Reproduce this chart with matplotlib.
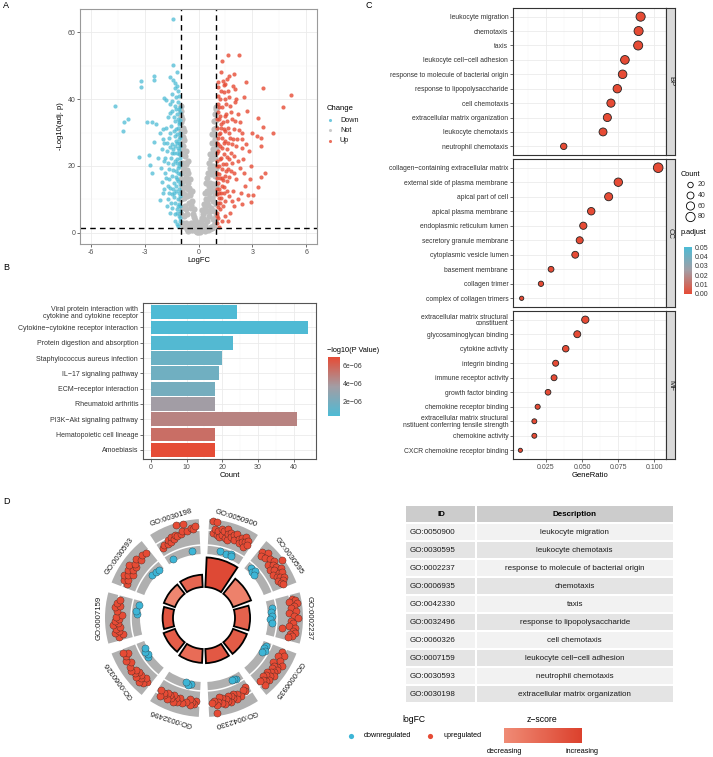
import numpy as np
import matplotlib
matplotlib.use("Agg")
import matplotlib.pyplot as plt
from matplotlib.colors import LinearSegmentedColormap, Normalize
from matplotlib.cm import ScalarMappable
from matplotlib.patches import Rectangle

plt.rcParams['font.family'] = ['Liberation Sans', 'DejaVu Sans']
plt.rcParams['axes.unicode_minus'] = False

W, H = 713, 757
M = '\u2212'

# ---------------- A: volcano ----------------
down_pts = [(-1.43, 64.1), (-1.44, 50.2), (-1.20, 48.2), (-2.48, 46.9), (-3.18, 45.3), (-3.18, 43.7),
            (-2.48, 45.6), (-1.57, 46.5), (-1.44, 45.7), (-1.29, 44.7), (-1.29, 43.2), (-1.93, 40.4),
            (-1.80, 39.7), (-4.67, 37.9), (-3.93, 33.9), (-4.17, 33.0), (-4.20, 30.4), (-2.89, 33.1),
            (-2.57, 33.1), (-2.39, 32.4), (-2.17, 29.9), (-2.48, 27.1), (-3.32, 22.7), (-2.78, 23.2),
            (-2.72, 20.3), (-2.61, 17.9), (-2.17, 9.7), (-2.04, 15.2),
            (-1.05, 3.5), (-1.1, 5), (-1.02, 6.5), (-1.2, 7), (-1.08, 8.5), (-1.3, 9), (-1.15, 10),
            (-1.03, 11), (-1.45, 11.5), (-1.25, 12.5), (-1.1, 13), (-1.6, 13.5), (-1.02, 14.5),
            (-1.35, 15), (-1.18, 16), (-1.8, 16.5), (-1.5, 17), (-1.05, 17.5), (-1.25, 18.5),
            (-1.65, 19), (-1.12, 19.5), (-1.4, 20.5), (-1.02, 21), (-1.9, 21.5), (-1.22, 22),
            (-1.55, 22.5), (-1.08, 23.5), (-1.35, 24), (-1.75, 24.5), (-1.15, 25.5), (-1.03, 26),
            (-1.48, 26.5), (-1.28, 27.5), (-1.1, 28), (-1.62, 28.5), (-1.2, 29.5), (-1.04, 30),
            (-1.38, 30.5), (-1.15, 31.5), (-1.52, 32), (-1.06, 32.5), (-1.3, 33.5), (-1.12, 34),
            (-1.7, 34.5), (-1.22, 35.5), (-1.05, 36), (-1.45, 36.5), (-1.33, 38), (-1.6, 38.5),
            (-1.15, 39), (-1.25, 40.5), (-1.5, 41.5), (-1.12, 42.5), (-1.85, 18), (-2.0, 12),
            (-1.7, 10), (-1.3, 5.5), (-1.45, 7.5), (-1.9, 27), (-2.05, 25), (-1.95, 31), (-1.58, 6),
            (-1.2, 2.5), (-1.12, 15.5), (-1.07, 20), (-1.32, 21.5), (-1.42, 13), (-1.55, 9),
            (-1.72, 14), (-1.85, 22.5), (-1.06, 24.8), (-1.18, 27), (-1.09, 33), (-1.28, 16.8),
            (-1.4, 25.2), (-1.02, 37.5), (-1.16, 8), (-1.36, 10.8),
            (-1.03, 4.5), (-1.08, 12), (-1.13, 18), (-1.01, 22.5), (-1.19, 24), (-1.04, 28.8),
            (-1.11, 37), (-1.24, 31), (-1.17, 6), (-1.27, 14), (-1.31, 26), (-1.43, 18.8),
            (-1.5, 23.8), (-1.56, 29.8), (-1.63, 16.2), (-1.68, 21), (-1.76, 26.8), (-1.82, 31.5),
            (-1.39, 34.5), (-1.26, 37), (-1.47, 39.5), (-1.09, 41), (-1.21, 44), (-1.6, 35.8),
            (-1.92, 13), (-2.1, 19.5), (-2.25, 22.5), (-2.0, 28), (-1.66, 11.8), (-1.02, 8),
            (-1.05, 33.8), (-1.14, 2), (-1.33, 3.5), (-1.1, 26.8), (-1.2, 20.8), (-1.37, 11.8),
            (-1.73, 8), (-1.58, 25.8), (-1.29, 29)]
up_pts = [(1.30, 51.5), (1.63, 53.1), (2.28, 53.1), (2.65, 45.2), (3.57, 43.2), (5.15, 41.2),
          (4.69, 37.7), (4.13, 30.0), (3.57, 31.6), (3.31, 34.4), (3.26, 28.9), (3.46, 28.3),
          (3.50, 26.0), (3.69, 17.8), (3.48, 16.8), (3.31, 13.8), (3.06, 11.3), (2.93, 9.3),
          (2.74, 11.3), (2.04, 43.0), (2.1, 40.0), (1.42, 44.2), (1.58, 46.0),
          (1.02, 3), (1.1, 4.5), (1.05, 6), (1.2, 7), (1.35, 8), (1.08, 9), (1.5, 9.5), (1.25, 10.5),
          (1.04, 11.5), (1.7, 11), (1.4, 12), (1.15, 13), (1.9, 12.5), (1.3, 14), (1.06, 15),
          (1.6, 15.5), (1.2, 16.5), (2.1, 16), (1.45, 17), (1.02, 18), (1.8, 18.5), (1.3, 19),
          (1.12, 20), (2.3, 19.5), (1.55, 20.5), (1.04, 21.5), (1.7, 22), (1.25, 22.5), (2.0, 23),
          (1.4, 23.5), (1.1, 24.5), (1.6, 25), (2.4, 25.5), (1.2, 26), (1.85, 26.5), (1.03, 27),
          (1.5, 27.5), (1.3, 28.5), (2.15, 28), (1.12, 29.5), (1.7, 30), (1.4, 31), (1.05, 31.5),
          (1.95, 31), (1.25, 32.5), (1.6, 33.5), (1.15, 34), (2.3, 33), (1.45, 35), (1.08, 36),
          (1.8, 36), (1.3, 37.5), (1.55, 38.5), (2.05, 39), (1.2, 40), (1.7, 40.5), (1.4, 42),
          (1.1, 43.5), (1.5, 44.5), (1.9, 44), (1.35, 45.5), (2.5, 22), (2.6, 14), (2.2, 10),
          (1.75, 6), (1.45, 5), (2.45, 30), (2.7, 36.5), (1.65, 3.5), (1.15, 1.8), (2.8, 24.5),
          (2.35, 12), (1.95, 8), (1.25, 48), (2.0, 47.5), (1.18, 22), (1.32, 25.5), (1.09, 28.5),
          (1.22, 35), (1.36, 20.5), (1.14, 17.5), (1.48, 30.5), (1.62, 19), (1.06, 38.5),
          (1.28, 31.5), (1.78, 28.5), (1.88, 21), (2.2, 35.5), (1.16, 10.5), (1.38, 15.8),
          (1.03, 5), (1.08, 7.8), (1.13, 12), (1.01, 13), (1.19, 9), (1.27, 11.8), (1.33, 16.5),
          (1.43, 13.8), (1.52, 18.5), (1.58, 22.8), (1.66, 27), (1.72, 16.8), (1.82, 24), (1.92, 28),
          (2.08, 26), (2.18, 21.5), (2.26, 30.8), (2.4, 28), (2.55, 18), (2.62, 26.5), (2.05, 33.5),
          (1.75, 38), (1.62, 42.5), (1.45, 40), (1.23, 42.5), (1.08, 40.8), (1.02, 34), (1.04, 24),
          (1.11, 26.5), (1.21, 29.8), (1.36, 33), (1.53, 35.5), (1.66, 31.5), (1.88, 34), (1.98, 18),
          (1.57, 12.5), (1.3, 3.5), (1.85, 9.5), (2.45, 8.5), (2.9, 20), (3.0, 30), (2.55, 40.5),
          (1.02, 20), (1.16, 37.5), (1.41, 27), (1.05, 16.3), (1.09, 45), (1.7, 46.8), (2.85, 16)]
not_pts = [(0.05, 0.4), (0.12, 1.6), (0.1, 3.2), (0.18, 0.8), (0.2, 4.5), (0.22, 6.8), (0.28, 1.5),
           (0.3, 4.2), (0.32, 8.5), (0.35, 11.8), (0.38, 2.4), (0.4, 6.5), (0.42, 10.2), (0.44, 14.8),
           (0.46, 16.5), (0.5, 3.5), (0.52, 8.2), (0.5, 12.5), (0.55, 18.0), (0.56, 20.8), (0.6, 5.0),
           (0.6, 10.5), (0.62, 15.0), (0.63, 19.5), (0.65, 23.5), (0.68, 1.8), (0.7, 7.5), (0.7, 12.8),
           (0.72, 17.5), (0.72, 22.0), (0.74, 26.8), (0.76, 29.5), (0.78, 4.0), (0.8, 9.5), (0.8, 14.5),
           (0.82, 20.0), (0.82, 25.0), (0.84, 31.0), (0.86, 33.5), (0.88, 6.5), (0.9, 11.5), (0.9, 17.0),
           (0.9, 22.5), (0.92, 28.0), (0.93, 35.5), (0.95, 37.5), (0.96, 14.0), (0.97, 19.5),
           (0.97, 25.5), (0.98, 31.5), (0.99, 8.5), (0.66, 6.5), (0.58, 14.0), (0.86, 17.5), (0.94, 3.5),
           (-0.06, 0.9), (-0.13, 2.3), (-0.15, 0.5), (-0.2, 3.8), (-0.24, 7.0), (-0.27, 1.2),
           (-0.31, 5.5), (-0.34, 9.5), (-0.37, 12.5), (-0.4, 3.0), (-0.43, 7.5), (-0.45, 11.2),
           (-0.47, 16.0), (-0.52, 2.2), (-0.53, 9.0), (-0.55, 13.5), (-0.57, 17.8), (-0.59, 21.5),
           (-0.62, 5.5), (-0.63, 11.0), (-0.65, 16.2), (-0.67, 20.5), (-0.69, 24.5), (-0.71, 3.0),
           (-0.73, 8.0), (-0.74, 13.8), (-0.76, 18.5), (-0.77, 23.0), (-0.79, 27.8), (-0.8, 30.5),
           (-0.82, 5.0), (-0.83, 10.5), (-0.85, 15.5), (-0.86, 21.0), (-0.87, 26.0), (-0.89, 31.5),
           (-0.9, 34.0), (-0.91, 7.5), (-0.93, 12.5), (-0.94, 18.0), (-0.95, 23.5), (-0.96, 29.0),
           (-0.97, 36.5), (-0.99, 33.0), (-0.98, 16.0), (-0.99, 21.0), (-0.97, 26.5), (-0.98, 10.0),
           (-0.68, 7.0), (-0.6, 15.0), (-0.88, 19.5), (-0.92, 2.5), (-0.01, 0.2),
           (0.03, 1.5), (-0.03, 2.5), (0.08, 0.2), (-0.09, 0.1), (0.15, 2.6), (-0.18, 1.6), (0.25, 2.4),
           (-0.3, 2.2), (0.34, 0.6), (-0.36, 0.8), (0.45, 1.2), (-0.48, 1.0), (0.55, 0.9), (-0.58, 0.6),
           (0.65, 1.0), (-0.66, 1.2), (0.75, 1.5), (-0.78, 1.9), (0.85, 2.2), (-0.86, 2.8), (0.25, 5.6),
           (-0.27, 4.6), (0.36, 7.3), (-0.39, 8.4), (0.47, 9.6), (-0.5, 11.8), (0.57, 12.0),
           (-0.61, 13.2), (0.68, 14.3), (-0.72, 16.8), (0.78, 18.0), (-0.82, 19.0), (0.86, 23.4),
           (-0.9, 25.0), (0.94, 27.0), (-0.95, 30.5), (0.97, 33.8), (-0.98, 35.0), (0.99, 37.0),
           (-1.0, 38.0), (0.88, 29.5), (-0.84, 28.8), (0.78, 24.0), (-0.72, 21.0), (0.69, 19.0),
           (-0.64, 18.8), (0.74, 10.5), (-0.78, 11.5), (0.86, 12.5), (-0.9, 14.0), (0.96, 5.0),
           (-0.97, 5.5)]
down_lfc, down_p = zip(*down_pts)
up_lfc, up_p = zip(*up_pts)
not_lfc, not_p = zip(*not_pts)

# ---------------- B: KEGG bars ----------------
kegg_terms = ['Viral protein interaction with\ncytokine and cytokine receptor',
              'Cytokine' + M + 'cytokine receptor interaction', 'Protein digestion and absorption',
              'Staphylococcus aureus infection', 'IL' + M + '17 signaling pathway',
              'ECM' + M + 'receptor interaction', 'Rheumatoid arthritis',
              'PI3K' + M + 'Akt signaling pathway', 'Hematopoietic cell lineage', 'Amoebiasis']
kegg_count = [24, 44, 23, 20, 19, 18, 18, 41, 18, 18]
kegg_p = [0.40e-6, 0.45e-6, 0.6e-6, 1.5e-6, 1.7e-6, 1.9e-6, 3.6e-6, 4.7e-6, 5.5e-6, 6.9e-6]

# ---------------- C: GO dot plot ----------------
bp_terms = ['leukocyte migration', 'chemotaxis', 'taxis', 'leukocyte cell' + M + 'cell adhesion',
            'response to molecule of bacterial origin', 'response to lipopolysaccharide',
            'cell chemotaxis', 'extracellular matrix organization', 'leukocyte chemotaxis',
            'neutrophil chemotaxis']
bp_ratio = [0.0907, 0.0893, 0.0890, 0.0798, 0.0782, 0.0745, 0.0701, 0.0676, 0.0646, 0.0373]
bp_count = [78, 77, 77, 69, 67, 64, 60, 58, 56, 32]
bp_padj = [1e-25, 1e-24, 1e-24, 1e-22, 1e-21, 1e-20, 1e-18, 1e-18, 1e-17, 1e-12]
cc_terms = ['collagen' + M + 'containing extracellular matrix', 'external side of plasma membrane',
            'apical part of cell', 'apical plasma membrane', 'endoplasmic reticulum lumen',
            'secretory granule membrane', 'cytoplasmic vesicle lumen', 'basement membrane',
            'collagen trimer', 'complex of collagen trimers']
cc_ratio = [0.1029, 0.0752, 0.0685, 0.0564, 0.0509, 0.0484, 0.0453, 0.0285, 0.0215, 0.0081]
cc_count = [88, 64, 58, 48, 44, 41, 39, 24, 18, 7]
cc_padj = [1e-20, 1e-12, 1e-10, 1e-8, 1e-7, 1e-6, 1e-6, 1e-6, 1e-5, 1e-4]
mf_terms = ['extracellular matrix structural\nconstituent', 'glycosaminoglycan binding',
            'cytokine activity', 'integrin binding', 'immune receptor activity',
            'growth factor binding', 'chemokine receptor binding',
            'extracellular matrix structural\nnstituent conferring tensile strength',
            'chemokine activity', 'CXCR chemokine receptor binding']
mf_ratio = [0.0523, 0.0467, 0.0387, 0.0317, 0.0306, 0.0264, 0.0192, 0.0169, 0.0169, 0.0072]
mf_count = [45, 40, 33, 27, 26, 23, 16, 14, 14, 6]
mf_padj = [1e-12, 1e-10, 1e-9, 1e-8, 1e-8, 1e-7, 1e-6, 1e-6, 1e-6, 1e-5]
count_breaks = [20, 40, 60, 80]

# ---------------- D: GO circle + table ----------------
go_ids = ['GO:0050900', 'GO:0030595', 'GO:0002237', 'GO:0006935', 'GO:0042330',
          'GO:0032496', 'GO:0060326', 'GO:0007159', 'GO:0030593', 'GO:0030198']
go_desc = ['leukocyte migration', 'leukocyte chemotaxis', 'response to molecule of bacterial origin',
           'chemotaxis', 'taxis', 'response to lipopolysaccharide', 'cell chemotaxis',
           'leukocyte cell' + M + 'cell adhesion', 'neutrophil chemotaxis',
           'extracellular matrix organization']
go_logp = [29.6, 19.2, 15.1, 14.8, 14.2, 13.9, 12.1, 10.4, 11.8, 12.3]
go_zscore = [6.5, 3.2, 5.0, 5.4, 5.6, 4.4, 5.3, 5.8, 2.9, 4.8]
go_lfc = [
    [4.8, 2.6, 3.4, 4.7, 2.2, 3.0, 1.8, 3.6, 2.4, 3.2, -0.8, 2.0, 3.8, 2.8, 1.6, 3.3, 2.5, -1.0,
     3.0, 2.1, 3.5, -0.7, -1.1, 2.7, 1.9, 3.1, 2.3, 3.7, 2.6, 1.7, 3.2, 2.4],
    [3.0, 2.2, -0.9, 3.6, 2.6, -1.2, -0.8, 3.2, -1.4, 2.0, 3.4, 2.8, 4.8, 1.8, 3.1, 2.4, 3.8, 1.6,
     2.9, 3.5, 2.1, 2.7, 3.3, 1.9, 3.0, 2.3, 2.6],
    [3.4, 4.0, 2.6, 4.2, -0.8, 3.6, 3.0, -1.2, 3.8, 2.4, -1.0, 3.5, 4.1, -1.4, 2.9, 3.2, -0.9, 2.5,
     3.7, 1.2, 3.3, 3.9, 2.8, 3.4, 2.7],
    [2.4, -0.9, 3.2, -1.3, 2.0, -0.8, 2.8, -1.1, 3.6, 1.8, 3.0, 2.5, 3.4, 2.2, 3.1, 2.6, 3.6, 1.9,
     2.9, 2.3, 3.3, 2.0, 3.0, 2.5, 3.5, 2.2],
    [1.4, 2.2, 1.8, -0.8, -1.1, 2.6, -0.9, 2.0, 2.9, 1.6, 2.4, 2.0, 3.0, 1.8, 2.6, 2.2, 3.2, 1.9,
     2.8, 1.5, 2.4, 2.9, 4.6, 2.1, 2.5],
    [2.0, 2.7, 2.3, 3.1, 1.8, -1.2, 2.6, -0.9, 2.9, -1.4, 2.1, 3.0, 2.4, 3.3, 2.0, 2.7, 2.3, 3.2,
     2.1, 2.8, 2.5, 3.4, 2.2],
    [2.5, 3.2, 2.0, 3.6, 2.8, 2.3, 3.4, 2.2, 3.0, 2.6, 3.5, -1.0, 3.1, -1.3, 2.4, -0.9, 3.2, -1.4,
     2.8, 2.2, 3.0],
    [2.8, 2.0, 3.4, 2.5, 3.1, 2.2, 3.6, 2.6, 3.2, 2.4, 3.0, 1.9, -1.1, 2.8, -0.9, 3.3, 2.3, 3.0,
     -1.3, 2.6],
    [2.2, 3.1, 2.5, 3.6, 2.8, 2.0, 3.3, 2.6, 3.8, 2.3, 3.0, -1.0, 3.4, 2.5, -1.2, 3.1, -1.5, 2.8],
    [1.6, 2.1, -1.3, 1.9, 2.5, 2.0, 2.8, 2.3, 3.1, 2.6, 4.8, 2.9, 3.4, 4.7, 3.2, -1.0, 3.6, 3.3, 3.8],
]

RED = '#E64B35'
BLUE = '#4DBBD5'
GRAYPT = '#BEBEBE'

fig = plt.figure(figsize=(W / 100, H / 100), dpi=100)


def box(l, t, r, b):
    return [l / W, 1 - b / H, (r - l) / W, (b - t) / H]


def gg_style(ax, edge):
    for s in ax.spines.values():
        s.set_color(edge)
        s.set_linewidth(0.8)
    ax.tick_params(which='major', length=2, width=0.5, color='#333333', labelsize=5,
                   labelcolor='#4D4D4D', pad=1.5)
    ax.tick_params(which='minor', length=0)
    ax.grid(which='major', color='#EBEBEB', lw=0.6)
    ax.grid(which='minor', color='#F3F3F3', lw=0.35)
    ax.set_axisbelow(True)


# A
axA = fig.add_axes(box(80, 9, 317, 244))
gg_style(axA, '#9A9A9A')
axA.scatter(not_lfc, not_p, s=20, c=GRAYPT, lw=0)
axA.scatter(down_lfc, down_p, s=9, c=BLUE, alpha=0.75, lw=0)
axA.scatter(up_lfc, up_p, s=9, c=RED, alpha=0.8, lw=0)
for xv in (-1, 1):
    axA.axvline(xv, color='black', lw=1, ls=(0, (4, 3)))
axA.axhline(-np.log10(0.05), color='black', lw=1, ls=(0, (4, 3)))
axA.set_xlim(-6.6, 6.6)
axA.set_ylim(-3.4, 67)
axA.set_xticks([-6, -3, 0, 3, 6])
axA.set_xticks([-4.5, -1.5, 1.5, 4.5], minor=True)
axA.set_yticks([0, 20, 40, 60])
axA.set_yticks([10, 30, 50], minor=True)
axA.set_xlabel('LogFC', fontsize=5.5, labelpad=1)
axA.set_ylabel('-Log10(adj. p)', fontsize=5.5, labelpad=2)

# B
axB = fig.add_axes(box(143, 303, 316, 459))
gg_style(axB, '#555555')
cmapB = LinearSegmentedColormap.from_list('kegg', [BLUE, '#A39DA4', RED])
normB = Normalize(0.35e-6, 6.94e-6)
yb = np.arange(len(kegg_terms))[::-1]
axB.barh(yb, kegg_count, height=0.9, color=cmapB(normB(np.array(kegg_p))), zorder=2)
axB.set_yticks(yb)
axB.set_yticklabels(kegg_terms, fontsize=5, color='#333333', linespacing=0.95)
axB.set_ylim(-0.6, 9.6)
axB.set_xlim(-2.2, 46.2)
axB.set_xticks([0, 10, 20, 30, 40])
axB.set_xticks([5, 15, 25, 35, 45], minor=True)
axB.set_xlabel('Count', fontsize=5.5, labelpad=1)

caxB = fig.add_axes(box(328, 357, 340, 416))
cbB = fig.colorbar(ScalarMappable(normB, cmapB), cax=caxB)
cbB.outline.set_visible(False)
cbB.set_ticks([2e-6, 4e-6, 6e-6])
cbB.set_ticklabels(['2e' + M + '06', '4e' + M + '06', '6e' + M + '06'])
caxB.tick_params(length=0, labelsize=5, labelcolor='#333333', pad=2)

# C
cmapC = LinearSegmentedColormap.from_list('padj', [RED, '#A39DA4', BLUE])
normC = Normalize(0, 0.05)


def dot_size(c):
    return 6 + 0.48 * np.asarray(c, dtype=float)


facets = [('BP', bp_terms, bp_ratio, bp_count, bp_padj, 8, 155),
          ('CC', cc_terms, cc_ratio, cc_count, cc_padj, 159, 307),
          ('MF', mf_terms, mf_ratio, mf_count, mf_padj, 311, 459)]
for k, (lab, terms, ratio, cnt, padj, top, bot) in enumerate(facets):
    ax = fig.add_axes(box(513, top, 666, bot))
    gg_style(ax, '#333333')
    yy = np.arange(len(terms))[::-1]
    ax.scatter(ratio, yy, s=dot_size(cnt), c=cmapC(normC(np.array(padj))), edgecolors='#222222',
               linewidths=0.6, zorder=3)
    ax.set_yticks(yy)
    ax.set_yticklabels(terms, fontsize=4.9, color='#333333', linespacing=0.9)
    ax.set_ylim(-0.6, 9.6)
    ax.set_xlim(0.00208, 0.10833)
    ax.set_xticks([0.025, 0.05, 0.075, 0.1])
    ax.set_xticks([0.0125, 0.0375, 0.0625, 0.0875], minor=True)
    if k < 2:
        ax.tick_params(axis='x', which='both', length=0, labelbottom=False)
    else:
        ax.set_xticklabels(['0.025', '0.050', '0.075', '0.100'])
        ax.set_xlabel('GeneRatio', fontsize=5.5, labelpad=1)
    sax = fig.add_axes(box(666, top, 675, bot))
    sax.set_facecolor('#D9D9D9')
    sax.set_xticks([])
    sax.set_yticks([])
    for s in sax.spines.values():
        s.set_color('#333333')
        s.set_linewidth(0.8)
    sax.text(0.5, 0.5, lab, rotation=-90, ha='center', va='center', fontsize=5.5,
             color='#1A1A1A', transform=sax.transAxes)

caxC = fig.add_axes(box(684, 247, 692, 294))
cbC = fig.colorbar(ScalarMappable(normC, cmapC), cax=caxC)
cbC.outline.set_visible(False)
cbC.set_ticks([0, 0.01, 0.02, 0.03, 0.04, 0.05])
cbC.set_ticklabels(['0.00', '0.01', '0.02', '0.03', '0.04', '0.05'])
caxC.tick_params(length=0, labelsize=5, labelcolor='#333333', pad=2)

# D circle
CY = 618
RIN, RLO, RHI = 31, 64, 99
axD = fig.add_axes(box(204 - 112, CY - 112, 204 + 112, CY + 112), projection='polar')
axD.set_theta_zero_location('N')
axD.set_theta_direction(-1)
axD.set_ylim(0, 112)
axD.axis('off')
cmapZ = LinearSegmentedColormap.from_list('z', ['#F08C76', '#DC412D'])
normZ = Normalize(2.5, 7)
sec = 2 * np.pi / len(go_ids)
for i, gid in enumerate(go_ids):
    tc = (i + 0.5) * sec
    axD.bar(tc, go_logp[i], width=np.deg2rad(31), bottom=RIN, color=cmapZ(normZ(go_zscore[i])),
            edgecolor='black', lw=1.3, zorder=2)
    axD.bar(tc, RHI - RLO, width=np.deg2rad(30), bottom=RLO, color='#B0B0B0', lw=0, zorder=1)
    arc = np.linspace(tc - np.deg2rad(15), tc + np.deg2rad(15), 40)
    for rw in (73, 88):
        axD.plot(arc, np.full_like(arc, rw), color='white', lw=1.1, zorder=1.5)
    vals = np.array(go_lfc[i])
    n = len(vals)
    th = tc - np.deg2rad(13) + (np.arange(n) + 0.5) / n * np.deg2rad(26)
    rr = 73 + 5 * vals
    axD.scatter(th[vals > 0], rr[vals > 0], s=26, c=RED, edgecolors='#4A2A22', linewidths=0.3,
                zorder=3)
    axD.scatter(th[vals < 0], rr[vals < 0], s=26, c='#3DB5D6', edgecolors='#2A4A55', linewidths=0.3,
                zorder=3)
    axD.text(tc, 105, gid, rotation=-np.rad2deg(tc), rotation_mode='anchor', ha='center',
             va='center', fontsize=5.6, color='#1A1A1A')

# overlay for labels, legends, table
ov = fig.add_axes([0, 0, 1, 1], zorder=10)
ov.set_xlim(0, W)
ov.set_ylim(H, 0)
ov.axis('off')
ov.patch.set_alpha(0)

for t, x, y in [('A', 3, 6), ('B', 3, 268), ('C', 366, 6), ('D', 3, 502)]:
    ov.text(x, y, t, fontsize=6.5, va='center', ha='left')

# A legend
ov.text(327, 109, 'Change', fontsize=5.5, va='center')
for y, lab, col in [(120, 'Down', BLUE), (130, 'Not', GRAYPT), (141, 'Up', RED)]:
    ov.scatter([330], [y], s=5, c=col, alpha=0.8, lw=0)
    ov.text(340, y, lab, fontsize=5.2, va='center', color='#1A1A1A')
ov.text(327, 350, M + 'log10(P Value)', fontsize=5.3, va='center')

# C legends
ov.text(681, 175, 'Count', fontsize=5.3, va='center')
for y, c in zip([185, 195.5, 206, 217], count_breaks):
    ov.scatter([690.5], [y], s=dot_size(c), facecolors='none', edgecolors='black', linewidths=0.6)
    ov.text(698, y, str(c), fontsize=5, va='center', color='#333333')
ov.text(681, 233, 'p.adjust', fontsize=5.3, va='center')

# table
x0, x1, x2 = 406, 476, 673.3
ov.add_patch(Rectangle((x0, 506), x1 - x0 - 0.8, 16.3, color='#CCCCCC', lw=0))
ov.add_patch(Rectangle((x1 + 0.8, 506), x2 - x1 - 0.8, 16.3, color='#CCCCCC', lw=0))
ov.text((x0 + x1) / 2, 514, 'ID', fontsize=5.8, weight='bold', ha='center', va='center')
ov.text((x1 + x2) / 2, 514, 'Description', fontsize=5.8, weight='bold', ha='center', va='center')
for i, (gid, desc) in enumerate(zip(go_ids, go_desc)):
    top = 524 + 18 * i
    col = '#F2F2F2' if i % 2 == 0 else '#E4E4E4'
    ov.add_patch(Rectangle((x0, top), x1 - x0 - 0.8, 16.3, color=col, lw=0))
    ov.add_patch(Rectangle((x1 + 0.8, top), x2 - x1 - 0.8, 16.3, color=col, lw=0))
    ov.text(x0 + 4, top + 8.2, gid, fontsize=5.8, ha='left', va='center', color='#1A1A1A')
    ov.text((x1 + x2) / 2, top + 8.2, desc, fontsize=5.8, ha='center', va='center', color='#1A1A1A')

# D legends
ov.text(414, 719, 'logFC', fontsize=6.2, ha='center', va='center')
ov.scatter([351], [735.5], s=14, c='#3DB5D6', lw=0)
ov.text(364, 735.5, 'downregulated', fontsize=5.2, va='center')
ov.scatter([430], [735.5], s=14, c=RED, lw=0)
ov.text(443, 735.5, 'upregulated', fontsize=5.2, va='center')
ov.text(542, 719, 'z' + M + 'score', fontsize=6.2, ha='center', va='center')
ov.text(504, 751.5, 'decreasing', fontsize=5.2, ha='center', va='center')
ov.text(582, 751.5, 'increasing', fontsize=5.2, ha='center', va='center')
axZ = fig.add_axes(box(504, 728, 582, 743))
axZ.imshow(np.linspace(0, 1, 256)[None, :], aspect='auto', cmap=cmapZ)
axZ.axis('off')

fig.savefig('out.png', dpi=100)
